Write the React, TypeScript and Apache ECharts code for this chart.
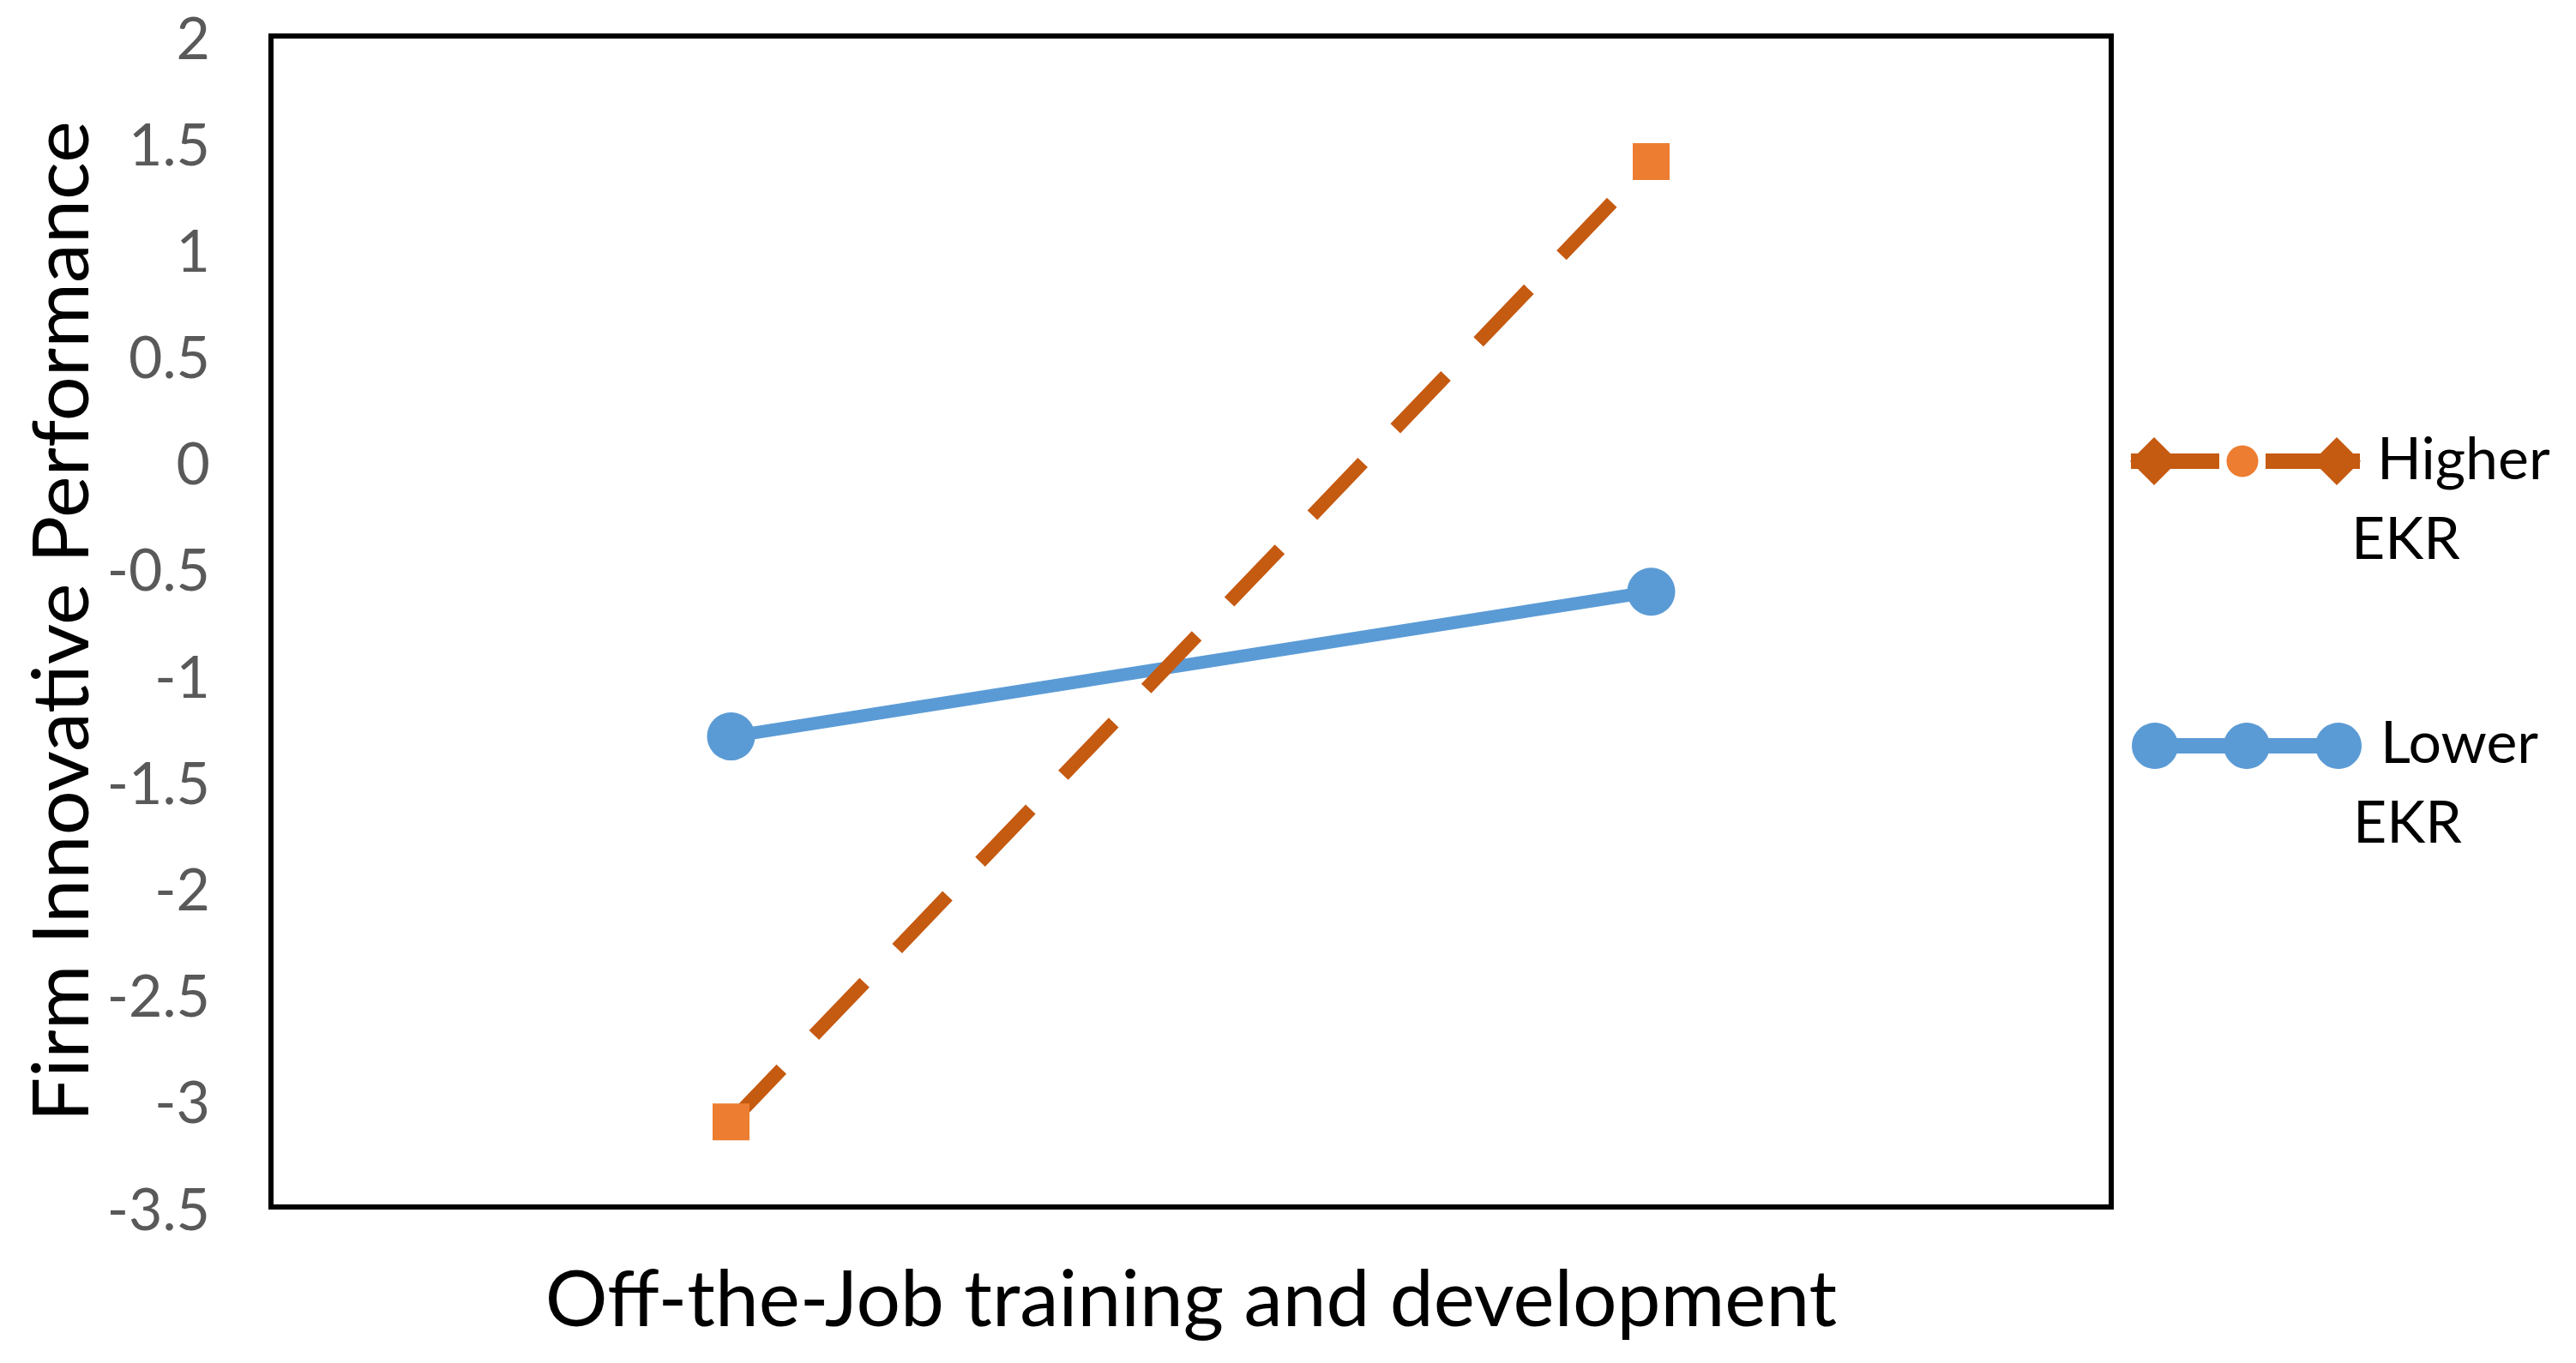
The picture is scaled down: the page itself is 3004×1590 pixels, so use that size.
import React, { useEffect, useRef } from "react";
import * as echarts from "echarts";

const categories = ["Low", "High"];
const higherEKR = [-3.1, 1.41];
const lowerEKR = [-1.29, -0.61];
const yMin = -3.5;
const yMax = 2;
const yInterval = 0.5;
const xTitle = "Off-the-Job training and development";
const yTitle = "Firm Innovative Performance";
const legendNames = ["Higher", "Lower"];
const legendSub = "EKR";

const FONT = "Lato";
const ORANGE_DARK = "#C55A11";
const ORANGE = "#ED7D31";
const BLUE = "#5B9BD5";

export default function App() {
  const ref = useRef<HTMLDivElement>(null);
  useEffect(() => {
    document.body.style.margin = "0";
    const chart = echarts.init(ref.current!, null, { renderer: "svg" });
    const textStyle = (x: number, y: number, text: string) => ({
      type: "text",
      x,
      y,
      style: {
        text,
        fontFamily: FONT,
        fontSize: 68,
        fill: "#000",
        verticalAlign: "middle",
        align: "left",
      },
    });
    chart.setOption({
      animation: false,
      backgroundColor: "#fff",
      grid: {
        left: 316,
        top: 42,
        right: 542,
        bottom: 182,
        show: true,
        borderColor: "#000",
        borderWidth: 6,
        backgroundColor: "transparent",
      },
      xAxis: {
        type: "category",
        data: categories,
        boundaryGap: true,
        axisLine: { show: false },
        axisTick: { show: false },
        axisLabel: { show: false },
        splitLine: { show: false },
        name: xTitle,
        nameLocation: "middle",
        nameGap: 58,
        nameTextStyle: { fontFamily: FONT, fontSize: 91, color: "#000" },
      },
      yAxis: {
        type: "value",
        min: yMin,
        max: yMax,
        interval: yInterval,
        axisLine: { show: false },
        axisTick: { show: false },
        splitLine: { show: false },
        axisLabel: {
          fontFamily: FONT,
          fontSize: 68,
          color: "#595959",
          margin: 71,
        },
        name: yTitle,
        nameLocation: "middle",
        nameGap: 202,
        nameRotate: 90,
        nameTextStyle: { fontFamily: FONT, fontSize: 92, color: "#000" },
      },
      series: [
        {
          name: "Lower EKR",
          type: "line",
          data: lowerEKR,
          symbol: "circle",
          symbolSize: 56,
          lineStyle: { color: BLUE, width: 15 },
          itemStyle: { color: BLUE },
          z: 2,
        },
        {
          name: "Higher EKR",
          type: "line",
          data: higherEKR,
          symbol: "rect",
          symbolSize: 43,
          lineStyle: { color: ORANGE_DARK, width: 16, type: [85, 55], cap: "butt" },
          itemStyle: { color: ORANGE },
          z: 3,
        },
      ],
      graphic: [
        // Higher EKR legend
        { type: "line", shape: { x1: 2485, y1: 538, x2: 2588, y2: 538 }, style: { stroke: ORANGE_DARK, lineWidth: 18 } },
        { type: "line", shape: { x1: 2642, y1: 538, x2: 2752, y2: 538 }, style: { stroke: ORANGE_DARK, lineWidth: 18 } },
        { type: "polygon", shape: { points: [[2512, 510], [2540, 538], [2512, 566], [2484, 538]] }, style: { fill: ORANGE_DARK } },
        { type: "polygon", shape: { points: [[2725, 510], [2753, 538], [2725, 566], [2697, 538]] }, style: { fill: ORANGE_DARK } },
        { type: "circle", shape: { cx: 2615, cy: 538, r: 18.5 }, style: { fill: ORANGE } },
        textStyle(2772, 532, legendNames[0]),
        textStyle(2742, 625, legendSub),
        // Lower EKR legend
        { type: "line", shape: { x1: 2490, y1: 870, x2: 2750, y2: 870 }, style: { stroke: BLUE, lineWidth: 18 } },
        { type: "circle", shape: { cx: 2513, cy: 870, r: 27 }, style: { fill: BLUE } },
        { type: "circle", shape: { cx: 2620, cy: 870, r: 27 }, style: { fill: BLUE } },
        { type: "circle", shape: { cx: 2727, cy: 870, r: 27 }, style: { fill: BLUE } },
        textStyle(2776, 863, legendNames[1]),
        textStyle(2744, 956, legendSub),
      ],
    });
    return () => chart.dispose();
  }, []);
  return <div ref={ref} style={{ width: 3004, height: 1590 }} />;
}
